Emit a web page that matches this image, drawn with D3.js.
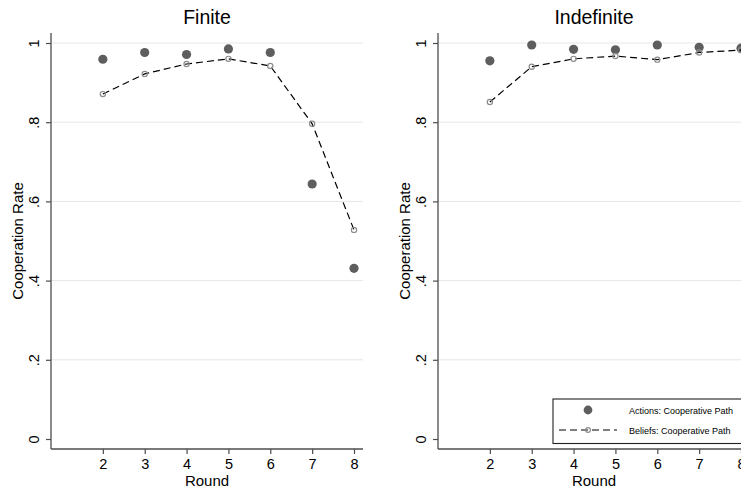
<!DOCTYPE html>
<html>
<head>
<meta charset="utf-8">
<script src="https://cdn.jsdelivr.net/npm/d3@7"></script>
<style>
  html, body { margin: 0; padding: 0; background: #fff; }
  svg { display: block; font-family: "Liberation Sans", Arial, Helvetica, sans-serif; }
</style>
</head>
<body>
<svg id="chart" width="741" height="491"></svg>
<script>
// Rounds shown on the x axis
const rounds = [2, 3, 4, 5, 6, 7, 8];

// Finite horizon: observed cooperation and stated beliefs
const finiteActions = [0.959, 0.976, 0.971, 0.985, 0.976, 0.644, 0.431];
const finiteBeliefs = [0.871, 0.922, 0.947, 0.960, 0.942, 0.796, 0.528];

// Indefinite horizon
const indefiniteActions = [0.955, 0.995, 0.984, 0.983, 0.995, 0.989, 0.987];
const indefiniteBeliefs = [0.851, 0.940, 0.960, 0.967, 0.958, 0.976, 0.982];

const yTicks = [0, 0.2, 0.4, 0.6, 0.8, 1];
const panelTitles = ["Finite", "Indefinite"];
const legendLabels = ["Actions: Cooperative Path", "Beliefs: Cooperative Path"];

const svg = d3.select("#chart");

// plot-region geometry shared by both panels
const plotTop = 33, plotBottom = 449, plotWidth = 312;
const panelLefts = [51, 438];
const padX = [10, 9], padY = 10;

const dotColor = "#5e5e5e";
const hollowColor = "#8c8c8c";
const axisColor = "#4d4d4d";

const fmt = d => d === 0 ? "0" : d === 1 ? "1" : d3.format(".1f")(d).replace(/^0/, "");

const panels = [
  { title: panelTitles[0], actions: finiteActions, beliefs: finiteBeliefs },
  { title: panelTitles[1], actions: indefiniteActions, beliefs: indefiniteBeliefs }
];

panels.forEach((p, i) => {
  const left = panelLefts[i];
  const right = left + plotWidth;
  const x = d3.scaleLinear().domain([1, 8]).range([left + padX[0], right - padX[1]]);
  const y = d3.scaleLinear().domain([0, 1]).range([plotBottom - padY, plotTop + padY]);

  const g = svg.append("g");

  // horizontal gridlines
  g.append("g").selectAll("line")
    .data(yTicks.filter(t => t > 0))
    .join("line")
    .attr("x1", left).attr("x2", right)
    .attr("y1", d => y(d)).attr("y2", d => y(d))
    .attr("stroke", "#e6e6e6").attr("stroke-width", 1);

  // y axis with vertical tick labels
  const ya = g.append("g")
    .attr("transform", `translate(${left},0)`)
    .call(d3.axisLeft(y).tickValues(yTicks).tickFormat(fmt).tickSize(5).tickPadding(0));
  ya.select(".domain").remove();
  ya.selectAll(".tick line").attr("stroke", axisColor).attr("stroke-width", 1.2);
  ya.selectAll(".tick text")
    .attr("transform", "rotate(-90)")
    .attr("x", 0).attr("y", -12).attr("dy", 0)
    .attr("text-anchor", "middle")
    .attr("font-size", 14.5).attr("fill", "#000");
  g.append("line")
    .attr("x1", left).attr("x2", left)
    .attr("y1", plotTop).attr("y2", plotBottom)
    .attr("stroke", axisColor).attr("stroke-width", 1.3);

  // x axis
  const xa = g.append("g")
    .attr("transform", `translate(0,${plotBottom})`)
    .call(d3.axisBottom(x).tickValues(rounds).tickFormat(d3.format("d")).tickSize(5).tickPadding(0));
  xa.select(".domain").remove();
  xa.selectAll(".tick line").attr("stroke", axisColor).attr("stroke-width", 1.2);
  xa.selectAll(".tick text")
    .attr("y", 20).attr("dy", 0)
    .attr("font-size", 14.5).attr("fill", "#000");
  g.append("line")
    .attr("x1", left).attr("x2", right)
    .attr("y1", plotBottom).attr("y2", plotBottom)
    .attr("stroke", axisColor).attr("stroke-width", 1.3);

  // titles
  g.append("text")
    .attr("x", (left + right) / 2).attr("y", 24)
    .attr("text-anchor", "middle")
    .attr("font-size", 19.5).attr("fill", "#000")
    .text(p.title);
  g.append("text")
    .attr("x", (left + right) / 2).attr("y", 486)
    .attr("text-anchor", "middle")
    .attr("font-size", 15).attr("fill", "#000")
    .text("Round");
  g.append("text")
    .attr("transform", `translate(${left - 28.5},${(plotTop + plotBottom) / 2}) rotate(-90)`)
    .attr("text-anchor", "middle")
    .attr("font-size", 15).attr("fill", "#000")
    .text("Cooperation Rate");

  // actions: filled dots
  g.append("g").selectAll("circle")
    .data(rounds.map((r, k) => [r, p.actions[k]]))
    .join("circle")
    .attr("cx", d => x(d[0])).attr("cy", d => y(d[1]))
    .attr("r", 4.6).attr("fill", dotColor);

  // beliefs: dashed line with small hollow markers
  const pts = rounds.map((r, k) => [r, p.beliefs[k]]);
  g.append("path")
    .datum(pts)
    .attr("d", d3.line().x(d => x(d[0])).y(d => y(d[1])))
    .attr("fill", "none").attr("stroke", "#000")
    .attr("stroke-width", 1.2).attr("stroke-dasharray", "7,4");
  g.append("g").selectAll("circle")
    .data(pts)
    .join("circle")
    .attr("cx", d => x(d[0])).attr("cy", d => y(d[1]))
    .attr("r", 2.6).attr("fill", "none")
    .attr("stroke", hollowColor).attr("stroke-width", 1.2);
});

// legend inside the right panel
const lg = svg.append("g").attr("transform", "translate(553,399)");
lg.append("rect")
  .attr("x", 0).attr("y", 0).attr("width", 196).attr("height", 44.5)
  .attr("fill", "#fff").attr("stroke", "#222").attr("stroke-width", 1.1);
lg.append("circle").attr("cx", 35).attr("cy", 11).attr("r", 4.4).attr("fill", dotColor);
lg.append("line")
  .attr("x1", 6).attr("x2", 64).attr("y1", 31).attr("y2", 31)
  .attr("stroke", "#000").attr("stroke-width", 1.2).attr("stroke-dasharray", "7,4");
lg.append("circle").attr("cx", 35).attr("cy", 31).attr("r", 2.4)
  .attr("fill", "none").attr("stroke", hollowColor).attr("stroke-width", 1.2);
lg.selectAll("text.lbl")
  .data(legendLabels)
  .join("text")
  .attr("class", "lbl")
  .attr("x", 76).attr("y", (d, k) => 14.5 + k * 20)
  .attr("font-size", 9).attr("fill", "#000")
  .text(d => d);
</script>
</body>
</html>
